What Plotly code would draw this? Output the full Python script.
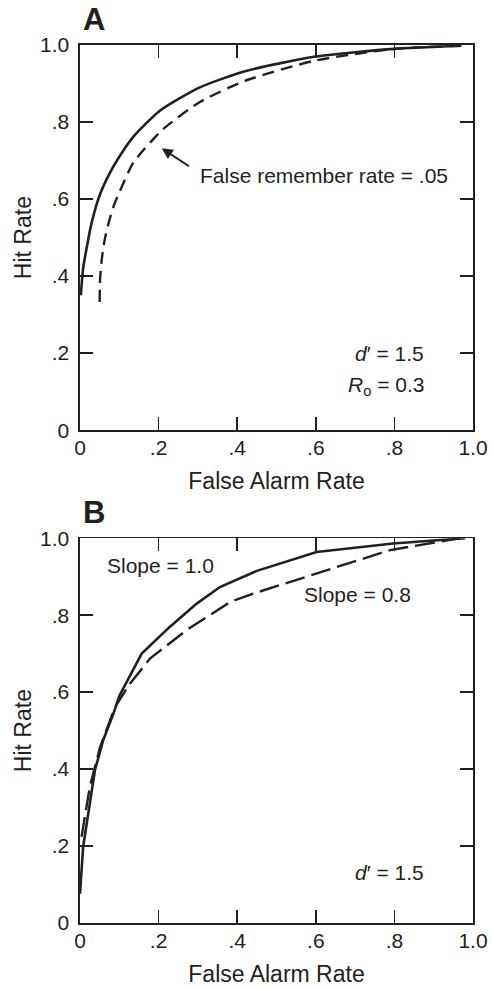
import plotly.graph_objects as go

# ---- Data ----
# Panel A
fa_a_solid = [0.002, 0.008, 0.02, 0.03, 0.05, 0.076, 0.10, 0.136, 0.204, 0.305, 0.42, 0.60, 0.80, 0.97]
hit_a_solid = [0.35, 0.42, 0.49, 0.54, 0.61, 0.668, 0.71, 0.762, 0.83, 0.89, 0.932, 0.97, 0.99, 0.998]
fa_a_dashed = [0.05, 0.051, 0.055, 0.062, 0.072, 0.085, 0.10, 0.136, 0.21, 0.305, 0.42, 0.60, 0.80, 0.97]
hit_a_dashed = [0.333, 0.39, 0.44, 0.49, 0.535, 0.58, 0.617, 0.695, 0.78, 0.852, 0.907, 0.96, 0.99, 0.998]

# Panel B
fa_b_solid = [0.0, 0.008, 0.021, 0.038, 0.059, 0.085, 0.10, 0.157, 0.229, 0.297, 0.356, 0.45, 0.602, 0.797, 0.98]
hit_b_solid = [0.076, 0.198, 0.284, 0.397, 0.475, 0.544, 0.59, 0.70, 0.77, 0.83, 0.873, 0.915, 0.964, 0.986, 1.0]
fa_b_dashed = [0.004, 0.025, 0.051, 0.089, 0.127, 0.178, 0.271, 0.382, 0.441, 0.611, 0.789, 0.967]
hit_b_dashed = [0.224, 0.354, 0.457, 0.561, 0.622, 0.687, 0.761, 0.834, 0.856, 0.912, 0.969, 1.0]

tick_vals = [0, 0.2, 0.4, 0.6, 0.8, 1.0]
tick_text = ["0", ".2", ".4", ".6", ".8", "1.0"]

INK = "#231f20"
FONT = "Liberation Sans, Arial, Helvetica, sans-serif"

fig = go.Figure()
fig.add_trace(go.Scatter(x=fa_a_solid, y=hit_a_solid, mode="lines",
                         line=dict(color=INK, width=2.6, shape="spline", smoothing=0.6),
                         xaxis="x", yaxis="y", showlegend=False))
fig.add_trace(go.Scatter(x=fa_a_dashed, y=hit_a_dashed, mode="lines",
                         line=dict(color=INK, width=2.4, dash="12px,7px", shape="spline", smoothing=0.6),
                         xaxis="x", yaxis="y", showlegend=False))
fig.add_trace(go.Scatter(x=fa_b_solid, y=hit_b_solid, mode="lines", line=dict(color=INK, width=2.6),
                         xaxis="x2", yaxis="y2", showlegend=False))
fig.add_trace(go.Scatter(x=fa_b_dashed, y=hit_b_dashed, mode="lines", line=dict(color=INK, width=2.4, dash="20px,7px"),
                         xaxis="x2", yaxis="y2", showlegend=False))

axis_common = dict(
    range=[0, 1], showline=True, linecolor=INK, linewidth=1.6, mirror="allticks",
    ticks="inside", ticklen=13, tickwidth=1.6, tickcolor=INK,
    tickvals=tick_vals, ticktext=tick_text, showgrid=False, zeroline=False,
    tickfont=dict(family=FONT, size=21, color=INK), fixedrange=True, automargin=False,
)
title_font = dict(family=FONT, size=23, color=INK)

fig.update_layout(
    width=492, height=988,
    margin=dict(l=80, r=19, t=45, b=65),
    paper_bgcolor="white", plot_bgcolor="white",
    font=dict(family=FONT, color=INK),
    hovermode=False,
    xaxis=dict(domain=[0, 1], anchor="y", ticklabelstandoff=-2,
               title=dict(text="False Alarm Rate", font=title_font, standoff=15), **axis_common),
    yaxis=dict(domain=[0.5613, 1.0], anchor="x", ticklabelstandoff=5,
               title=dict(text="Hit Rate", font=title_font, standoff=2), **axis_common),
    xaxis2=dict(domain=[0, 1], anchor="y2", ticklabelstandoff=-2,
                title=dict(text="False Alarm Rate", font=title_font, standoff=15), **axis_common),
    yaxis2=dict(domain=[0.0, 0.4383], anchor="x2", ticklabelstandoff=5,
                title=dict(text="Hit Rate", font=title_font, standoff=2), **axis_common),
)

ann_font = dict(family=FONT, size=21, color=INK)
annotations = [
    # panel letters
    dict(text="<b>A</b>", x=0.0, y=1.0, xref="x domain", yref="y domain", xanchor="left", yanchor="bottom",
         xshift=1, yshift=6, showarrow=False, font=dict(family=FONT, size=31, color=INK)),
    dict(text="<b>B</b>", x=0.0, y=1.0, xref="x2 domain", yref="y2 domain", xanchor="left", yanchor="bottom",
         xshift=1, yshift=6, showarrow=False, font=dict(family=FONT, size=31, color=INK)),
    # panel A texts
    dict(text="False remember rate = .05", x=0.30, y=0.662, xref="x", yref="y", xanchor="left", yanchor="middle",
         showarrow=False, font=ann_font),
    dict(text=" ", x=0.208, y=0.732, ax=0.285, ay=0.68, xref="x", yref="y", axref="x", ayref="y",
         showarrow=True, arrowhead=2, arrowsize=1.1, arrowwidth=2, arrowcolor=INK),
    dict(text="<i>d</i>′ = 1.5", x=0.88, y=0.20, xref="x", yref="y", xanchor="right", yanchor="middle",
         showarrow=False, font=ann_font),
    dict(text="<i>R</i><sub>o</sub> = 0.3", x=0.88, y=0.116, xref="x", yref="y", xanchor="right", yanchor="middle",
         showarrow=False, font=ann_font),
    # panel B texts
    dict(text="Slope = 1.0", x=0.064, y=0.93, xref="x2", yref="y2", xanchor="left", yanchor="middle",
         showarrow=False, font=ann_font),
    dict(text="Slope = 0.8", x=0.564, y=0.853, xref="x2", yref="y2", xanchor="left", yanchor="middle",
         showarrow=False, font=ann_font),
    dict(text="<i>d</i>′ = 1.5", x=0.88, y=0.132, xref="x2", yref="y2", xanchor="right", yanchor="middle",
         showarrow=False, font=ann_font),
]
fig.update_layout(annotations=annotations)

fig.write_html(
    "out.html",
    config={"displayModeBar": False, "staticPlot": True},
    post_script="document.body.style.margin='0';document.body.style.padding='0';"
                "document.documentElement.style.overflow='hidden';",
)
